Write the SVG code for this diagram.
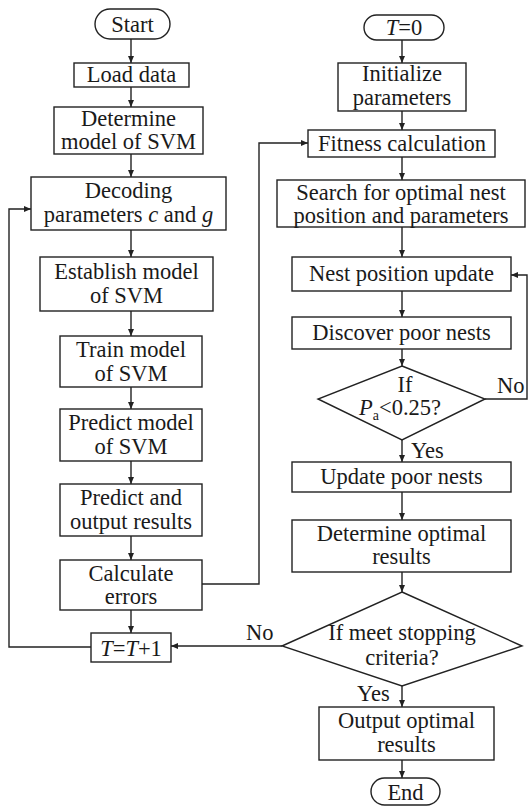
<svg xmlns="http://www.w3.org/2000/svg" width="529" height="807" viewBox="0 0 529 807">
<defs>
<marker id="arr" markerUnits="userSpaceOnUse" markerWidth="8" markerHeight="6" refX="7" refY="3" orient="auto">
<path d="M0,0 L7,3 L0,6 Z" fill="#222"/>
</marker>
<style>
.b { fill: #fff; stroke: #222; stroke-width: 1.4; }
text { font-size: 22.5px; fill: #1a1a1a; text-anchor: middle; }
.c path { fill: none; stroke: #222; stroke-width: 1.4; marker-end: url(#arr); }
.l { text-anchor: start; }
</style>
</defs>
<rect width="529" height="807" fill="#fff"/>

<g class="c" id="connectors">
<path d="M131,39 V63"/>
<path d="M131,87 V107"/>
<path d="M131,154 V177"/>
<path d="M131,230 V257"/>
<path d="M131,311 V336"/>
<path d="M131,387 V409"/>
<path d="M131,461 V484"/>
<path d="M131,536 V560"/>
<path d="M131,610 V633"/>
<path d="M91,647 H9 V209 H31"/>
<path d="M202,584 H259 V143 H308"/>
<path d="M402,40 V63"/>
<path d="M402,111 V130"/>
<path d="M402,157 V180"/>
<path d="M402,227 V257"/>
<path d="M402,291 V317"/>
<path d="M402,349 V366"/>
<path d="M402,440 V462"/>
<path d="M402,492 V520"/>
<path d="M402,572 V592"/>
<path d="M402,686 V707"/>
<path d="M402,760 V778"/>
<path d="M485,399 H527 V275 H511"/>
<path d="M282,646 H171"/>
</g>

<g font-family="Liberation Serif, Times New Roman, serif">
<g id="start"><rect class="b" x="95" y="9" width="75" height="30" rx="15"/><text x="132.5" y="32">Start</text></g>
<g id="load"><rect class="b" x="74" y="63" width="115" height="24"/><text x="131.5" y="82">Load data</text></g>
<g id="determine"><rect class="b" x="54" y="107" width="149" height="47"/><text x="128.5" y="126">Determine</text><text x="128.5" y="149">model of SVM</text></g>
<g id="decoding"><rect class="b" x="31" y="177" width="195" height="53"/><text x="128.5" y="198">Decoding</text><text x="128.5" y="222">parameters <tspan font-style="italic">c</tspan> and <tspan font-style="italic">g</tspan></text></g>
<g id="establish"><rect class="b" x="40" y="257" width="173" height="54"/><text x="126.5" y="279">Establish model</text><text x="126.5" y="303">of SVM</text></g>
<g id="train"><rect class="b" x="60" y="336" width="142" height="51"/><text x="131" y="357">Train model</text><text x="131" y="381">of SVM</text></g>
<g id="predict"><rect class="b" x="60" y="409" width="142" height="52"/><text x="131" y="430">Predict model</text><text x="131" y="454">of SVM</text></g>
<g id="predictout"><rect class="b" x="60" y="484" width="142" height="52"/><text x="131" y="505">Predict and</text><text x="131" y="529">output results</text></g>
<g id="calc"><rect class="b" x="60" y="560" width="142" height="50"/><text x="131" y="581">Calculate</text><text x="131" y="604">errors</text></g>
<g id="tinc"><rect class="b" x="91" y="633" width="80" height="29"/><text x="131" y="656"><tspan font-style="italic">T</tspan>=<tspan font-style="italic">T</tspan>+1</text></g>

<g id="t0"><rect class="b" x="364" y="15" width="80" height="25" rx="12.5"/><text x="404" y="35"><tspan font-style="italic">T</tspan>=0</text></g>
<g id="init"><rect class="b" x="338" y="63" width="128" height="48"/><text x="402" y="81">Initialize</text><text x="402" y="105">parameters</text></g>
<g id="fitness"><rect class="b" x="308" y="130" width="187" height="27"/><text x="402" y="151">Fitness calculation</text></g>
<g id="search"><rect class="b" x="277" y="180" width="248" height="47"/><text x="401" y="200">Search for optimal nest</text><text x="401" y="223">position and parameters</text></g>
<g id="nestupd"><rect class="b" x="292" y="257" width="219" height="34"/><text x="401.5" y="281">Nest position update</text></g>
<g id="discover"><rect class="b" x="292" y="317" width="219" height="32"/><text x="401.5" y="340">Discover poor nests</text></g>
<g id="dec1"><polygon class="b" points="402,366 485,399 402,440 318,399"/><text x="405" y="392">If</text><text x="400" y="415"><tspan font-style="italic">P</tspan><tspan font-size="14" dy="5">a</tspan><tspan dy="-5">&lt;0.25?</tspan></text></g>
<text class="l" x="497" y="393">No</text>
<text class="l" x="411" y="458">Yes</text>
<g id="updpoor"><rect class="b" x="292" y="462" width="219" height="30"/><text x="401.5" y="484">Update poor nests</text></g>
<g id="detopt"><rect class="b" x="292" y="520" width="219" height="52"/><text x="401.5" y="541">Determine optimal</text><text x="401.5" y="564">results</text></g>
<g id="dec2"><polygon class="b" points="402,592 522,646 402,686 282,646"/><text x="402" y="640">If meet stopping</text><text x="402" y="665">criteria?</text></g>
<text class="l" x="246" y="640">No</text>
<text class="l" x="357" y="701">Yes</text>
<g id="output"><rect class="b" x="319" y="707" width="175" height="53"/><text x="406.5" y="728">Output optimal</text><text x="406.5" y="752">results</text></g>
<g id="end"><rect class="b" x="371" y="778" width="69" height="27" rx="13.5"/><text x="405.5" y="800">End</text></g>
</g>
</svg>
